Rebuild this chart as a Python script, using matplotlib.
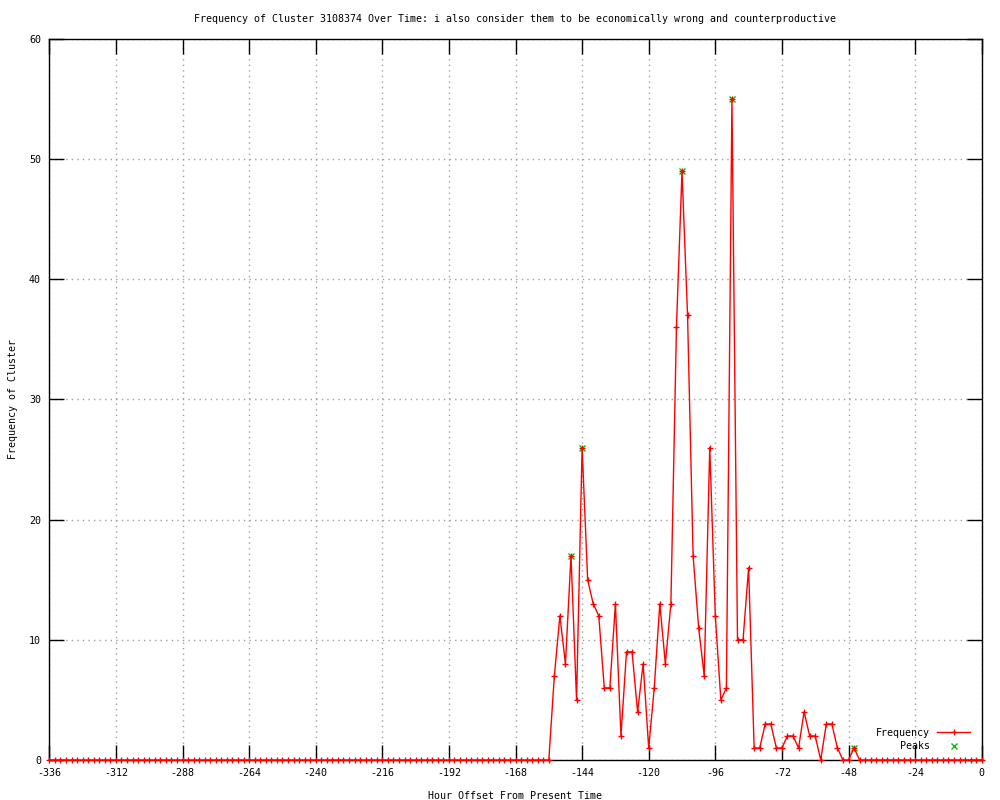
import matplotlib
matplotlib.use("Agg")
import matplotlib.pyplot as plt

plt.rcParams['font.family'] = ['DejaVu Sans Mono']
plt.rcParams['axes.unicode_minus'] = False

title = "Frequency of Cluster 3108374 Over Time: i also consider them to be economically wrong and counterproductive"
xlabel = "Hour Offset From Present Time"
ylabel = "Frequency of Cluster"

hours = list(range(-336, 1, 2))
frequency = [
    0, 0, 0, 0, 0, 0, 0, 0, 0, 0,
    0, 0, 0, 0, 0, 0, 0, 0, 0, 0,
    0, 0, 0, 0, 0, 0, 0, 0, 0, 0,
    0, 0, 0, 0, 0, 0, 0, 0, 0, 0,
    0, 0, 0, 0, 0, 0, 0, 0, 0, 0,
    0, 0, 0, 0, 0, 0, 0, 0, 0, 0,
    0, 0, 0, 0, 0, 0, 0, 0, 0, 0,
    0, 0, 0, 0, 0, 0, 0, 0, 0, 0,
    0, 0, 0, 0, 0, 0, 0, 0, 0, 0,
    0,
    7, 12, 8, 17, 5, 26, 15, 13, 12, 6,
    6, 13, 2, 9, 9, 4, 8, 1, 6, 13,
    8, 13, 36, 49, 37, 17, 11, 7, 26, 12,
    5, 6, 55, 10, 10, 16, 1, 1, 3, 3,
    1, 1, 2, 2, 1, 4, 2, 2, 0, 3,
    3, 1, 0, 0, 1,
    0, 0, 0, 0, 0, 0, 0, 0, 0, 0,
    0, 0, 0, 0, 0, 0, 0, 0, 0, 0,
    0, 0, 0,
]

peak_hours = [-148, -144, -108, -90, -46]
peak_values = [17, 26, 49, 55, 1]

xticks = list(range(-336, 1, 24))
yticks = list(range(0, 61, 10))

fs = 7.2
fig = plt.figure(figsize=(10, 8), dpi=100)
ax = fig.add_axes([0.0493, 0.05, 0.9324, 0.9014])

ax.plot(hours, frequency, color='#ff0000', lw=1.0, marker='+', markersize=5,
        markeredgewidth=1.0, clip_on=False, zorder=3, label='Frequency')
ax.plot(peak_hours, peak_values, linestyle='none', marker='x', color='#00c000',
        markersize=5, markeredgewidth=1.0, clip_on=False, zorder=2.8, label='Peaks')

ax.set_xlim(-336, 0)
ax.set_ylim(0, 60)
ax.set_xticks(xticks)
ax.set_yticks(yticks)
ax.tick_params(direction='in', length=11, width=1, top=True, right=True,
               labelsize=fs, pad=6, color='black')
ax.grid(True, color='#a0a0a0', linestyle=(0, (1, 3)), linewidth=1)
for sp in ax.spines.values():
    sp.set_linewidth(1)
    sp.set_color('black')
    sp.set_zorder(2.5)

ax.set_title(title, fontsize=fs, pad=12)
ax.set_xlabel(xlabel, fontsize=fs, labelpad=9)
ax.set_ylabel(ylabel, fontsize=fs, labelpad=8)

leg = ax.legend(loc='lower right', bbox_to_anchor=(0.9875, 0.012), frameon=False,
                markerfirst=False, fontsize=fs, handlelength=3.3, handletextpad=0.7,
                borderpad=0, borderaxespad=0, labelspacing=0.35, numpoints=1)

fig.savefig('out.png', dpi=100)
